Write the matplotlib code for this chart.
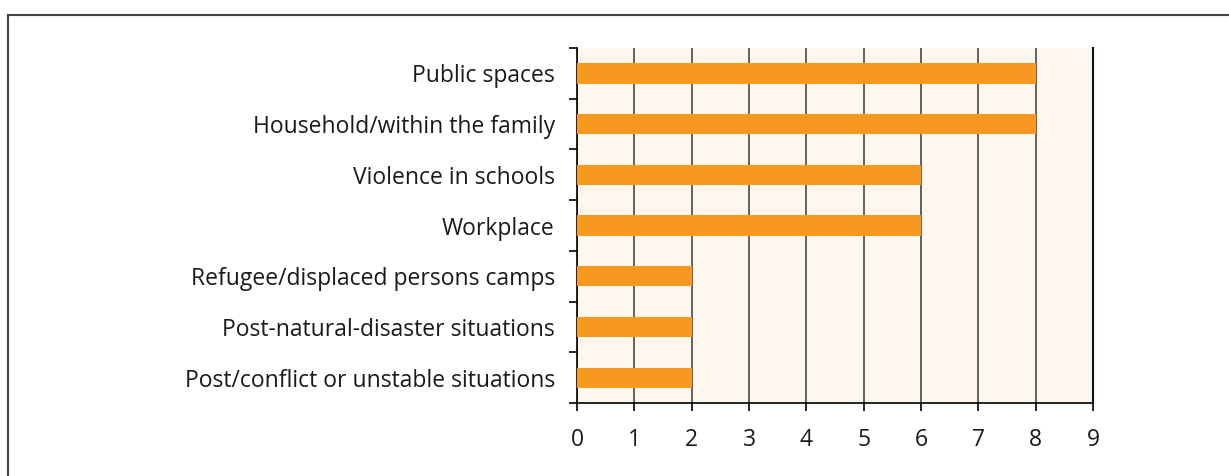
import numpy as np
import matplotlib.pyplot as plt
from matplotlib.lines import Line2D

# data
categories = [
    "Public spaces",
    "Household/within the family",
    "Violence in schools",
    "Workplace",
    "Refugee/displaced persons camps",
    "Post-natural-disaster situations",
    "Post/conflict or unstable situations",
]
values = [8, 8, 6, 6, 2, 2, 2]
x_ticks = list(range(0, 10))

plt.rcParams['font.family'] = ['Open Sans', 'DejaVu Sans']

fig = plt.figure(figsize=(12.29, 4.76), dpi=100)
ax = fig.add_axes([577 / 1229, 1 - 403 / 476, (1093 - 577) / 1229, (403 - 48) / 476])

n = len(categories)
ypos = np.arange(n)[::-1]
ax.set_facecolor('#fef7f0')
ax.barh(ypos, values, height=0.4, color='#f7981f', zorder=3)

ax.set_xlim(0, 9)
ax.set_ylim(-0.5, n - 0.5)
ax.set_xticks(x_ticks)
ax.set_xticklabels([str(t) for t in x_ticks], fontsize=16.5, color='#1a1a1a')
ax.xaxis.grid(True, color='#555555', linewidth=1.3, zorder=1)
ax.tick_params(axis='x', direction='out', length=6, width=1.2, pad=12)

# category labels at centres, ticks at boundaries
ax.set_yticks(ypos)
ax.set_yticklabels(categories, fontsize=16.5, color='#1a1a1a')
ax.tick_params(axis='y', which='major', length=0, pad=16)
ax.set_yticks(np.arange(-0.5, n, 1.0), minor=True)
ax.tick_params(axis='y', which='minor', direction='out', length=6, width=1.2)

ax.spines['top'].set_visible(False)
ax.spines['right'].set_color('#111111')
ax.spines['right'].set_linewidth(1.5)
ax.spines['left'].set_linewidth(1.2)
ax.spines['bottom'].set_linewidth(1.2)

# frame lines on the figure (top and left only)
fig.add_artist(Line2D([7.5 / 1229, 1.0], [1 - 14.5 / 476] * 2, color='#444444', linewidth=1.5))
fig.add_artist(Line2D([7.5 / 1229] * 2, [0.0, 1 - 14.5 / 476], color='#444444', linewidth=1.5))

fig.savefig('out.png', dpi=100)
